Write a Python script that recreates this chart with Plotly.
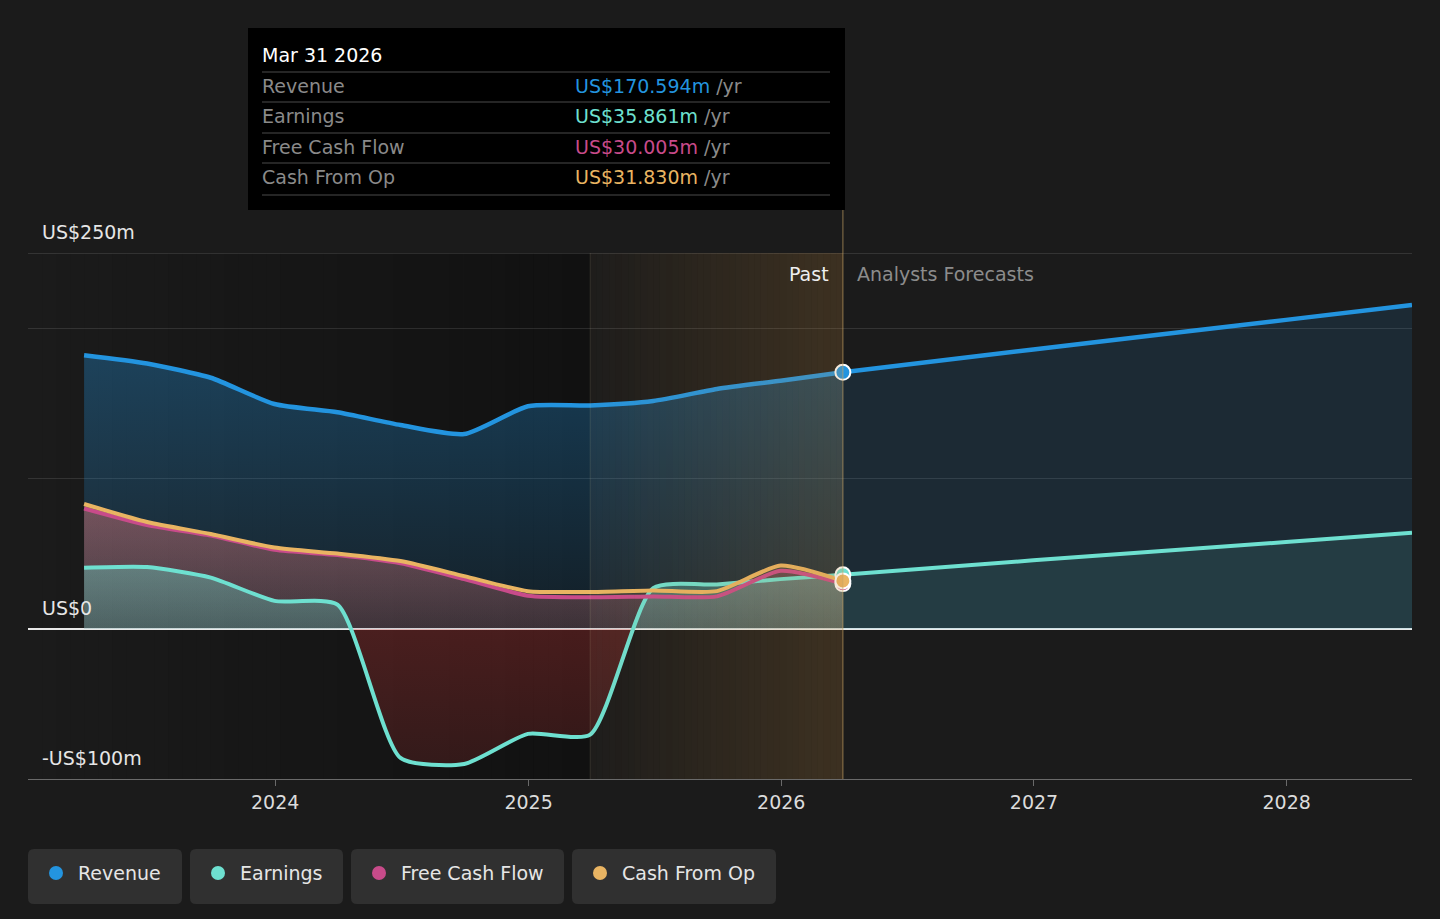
import numpy as np
import pandas as pd
import plotly.graph_objects as go

# ---------------- data ----------------
past_dates = ["2023-03-31", "2023-06-30", "2023-09-30", "2023-12-31",
              "2024-03-31", "2024-06-30", "2024-09-30", "2024-12-31",
              "2025-03-31", "2025-06-30", "2025-09-30", "2025-12-31",
              "2026-03-31"]
revenue_past = [182, 176.5, 167, 149.5, 144, 135.5, 129.5, 148, 148.5, 151.5, 159.5, 165, 170.594]
earnings_past = [40.5, 41, 34, 18.5, 16, -86, -90, -70, -70.5, 27, 29.5, 33, 35.861]
fcf_past = [80, 69, 62, 52.5, 49, 43.5, 33, 22, 21, 21.5, 21.5, 38.5, 30.005]
cfo_past = [83, 71, 63, 54, 50, 45, 35, 25, 24.5, 25.5, 25, 42, 31.83]

fc_dates = ["2026-03-31", "2026-12-31", "2027-12-31", "2028-06-30"]
revenue_fc = [170.594, 185.8, 205.5, 215.4]
earnings_fc = [35.861, 45.5, 57.7, 63.8]

year_ticks = ["2024-01-01", "2025-01-01", "2026-01-01", "2027-01-01", "2028-01-01"]
year_labels = ["2024", "2025", "2026", "2027", "2028"]

series_names = ["Revenue", "Earnings", "Free Cash Flow", "Cash From Op"]
series_colors = ["#2394df", "#6ee0d0", "#c84b8a", "#e9b462"]

x_range = ["2023-01-09", "2028-06-30"]
y_range = [-100, 250]
past_start = "2025-03-31"
now_date = "2026-03-31"

FONT = "DejaVu Sans"
BG = "#1b1b1b"
SMOOTH = 0.6

fig = go.Figure()

# ---------------- fills ----------------
fig.add_trace(go.Scatter(
    x=past_dates, y=revenue_past, mode="lines", line=dict(width=0, shape="spline", smoothing=SMOOTH),
    fill="tozeroy",
    fillgradient=dict(type="vertical", start=0, stop=max(revenue_past),
                      colorscale=[[0, "rgba(35,148,223,0.10)"], [1, "rgba(35,148,223,0.33)"]]),
    hoverinfo="skip", showlegend=False))
fig.add_trace(go.Scatter(
    x=fc_dates, y=revenue_fc, mode="lines", line=dict(width=0),
    fill="tozeroy", fillcolor="rgba(35,148,223,0.13)", hoverinfo="skip", showlegend=False))
fig.add_trace(go.Scatter(
    x=past_dates, y=cfo_past, mode="lines", line=dict(width=0, shape="spline", smoothing=SMOOTH),
    fill="tozeroy",
    fillgradient=dict(type="vertical", start=0, stop=max(cfo_past),
                      colorscale=[[0, "rgba(233,180,98,0.10)"], [1, "rgba(233,180,98,0.27)"]]),
    hoverinfo="skip", showlegend=False))
fig.add_trace(go.Scatter(
    x=past_dates, y=fcf_past, mode="lines", line=dict(width=0, shape="spline", smoothing=SMOOTH),
    fill="tozeroy",
    fillgradient=dict(type="vertical", start=0, stop=max(fcf_past),
                      colorscale=[[0, "rgba(200,75,138,0.12)"], [1, "rgba(200,75,138,0.28)"]]),
    hoverinfo="skip", showlegend=False))
e_lo, e_hi = min(earnings_past), max(earnings_past)
z = (0 - e_lo) / (e_hi - e_lo)
fig.add_trace(go.Scatter(
    x=past_dates, y=earnings_past, mode="lines", line=dict(width=0, shape="spline", smoothing=SMOOTH),
    fill="tozeroy",
    fillgradient=dict(type="vertical", start=e_lo, stop=e_hi,
                      colorscale=[[0, "rgba(205,55,55,0.17)"], [z - 0.001, "rgba(205,55,55,0.29)"],
                                  [z, "rgba(110,224,208,0.25)"], [1, "rgba(110,224,208,0.36)"]]),
    hoverinfo="skip", showlegend=False))
fig.add_trace(go.Scatter(
    x=fc_dates, y=earnings_fc, mode="lines", line=dict(width=0),
    fill="tozeroy", fillcolor="rgba(110,224,208,0.10)", hoverinfo="skip", showlegend=False))

# ---------------- lines ----------------
line_series = [
    (past_dates, revenue_past, series_colors[0], 4.5),
    (fc_dates, revenue_fc, series_colors[0], 4.5),
    (past_dates, earnings_past, series_colors[1], 4),
    (fc_dates, earnings_fc, series_colors[1], 4),
    (past_dates, fcf_past, series_colors[2], 4),
    (past_dates, cfo_past, series_colors[3], 4),
]
for xs, ys, col, w in line_series:
    fig.add_trace(go.Scatter(x=xs, y=ys, mode="lines",
                             line=dict(color=col, width=w, shape="spline", smoothing=SMOOTH),
                             hoverinfo="skip", showlegend=False))

# markers at the "now" point
for ys, col in [(revenue_past, series_colors[0]), (earnings_past, series_colors[1]),
                (fcf_past, series_colors[2]), (cfo_past, series_colors[3])]:
    fig.add_trace(go.Scatter(x=[past_dates[-1]], y=[ys[-1]], mode="markers",
                             marker=dict(color=col, size=15, line=dict(color="white", width=2)),
                             hoverinfo="skip", showlegend=False))

shapes = []
# dark gradient (below) on the left part of the plot
t0 = pd.Timestamp(x_range[0]); t1 = pd.Timestamp(past_start); t2 = pd.Timestamp(now_date)
N = 40
for i in range(N):
    a = t0 + (t1 - t0) * i / N
    b = t0 + (t1 - t0) * (i + 1) / N
    f = (i + 0.5) / N
    c = int(round(27 - 10 * f))
    shapes.append(dict(type="rect", xref="x", yref="paper", x0=a, x1=b, y0=0, y1=1,
                       fillcolor=f"rgb({c},{c},{c})", line=dict(width=0), layer="below"))
# gold overlay for last year of past data
for i in range(N):
    a = t1 + (t2 - t1) * i / N
    b = t1 + (t2 - t1) * (i + 1) / N
    f = (i + 0.5) / N
    shapes.append(dict(type="rect", xref="x", yref="paper", x0=a, x1=b, y0=0, y1=1,
                       fillcolor=f"rgba(200,140,60,{0.02 + 0.18 * f:.3f})", line=dict(width=0), layer="above"))
# top grid line at 250
shapes.append(dict(type="line", xref="paper", yref="y", x0=0, x1=1, y0=250, y1=250,
                   line=dict(color="rgba(255,255,255,0.22)", width=1), layer="below"))
# vertical marker at start of last year
shapes.append(dict(type="line", xref="x", yref="paper", x0=past_start, x1=past_start, y0=0, y1=1,
                   line=dict(color="rgba(255,235,200,0.12)", width=1), layer="above"))

# tooltip box geometry (paper coords)
W, H = 1384.0, 526.0
def px(xp): return (xp - 28) / W
def py(yp): return (779 - yp) / H

shapes.append(dict(type="line", xref="x", yref="paper", x0=now_date, x1=now_date, y0=0, y1=py(210),
                   line=dict(color="rgba(200,165,100,0.55)", width=1.2), layer="above"))
shapes.append(dict(type="rect", xref="paper", yref="paper", x0=px(248), x1=px(845), y0=py(210), y1=py(28),
                   fillcolor="#000000", line=dict(width=0), layer="above"))
for yy in [72, 102, 133, 163, 195]:
    shapes.append(dict(type="line", xref="paper", yref="paper", x0=px(262), x1=px(830), y0=py(yy), y1=py(yy),
                       line=dict(color="#4a4a4a", width=1.2), layer="above"))

annotations = []
annotations.append(dict(xref="paper", yref="paper", x=px(260), y=py(55), text=pd.Timestamp(now_date).strftime("%b %d %Y"),
                        showarrow=False, xanchor="left", yanchor="middle",
                        font=dict(family=FONT, size=19, color="#ffffff")))
row_vals = [revenue_past[-1], earnings_past[-1], fcf_past[-1], cfo_past[-1]]
for i, (nm, col, v) in enumerate(zip(series_names, series_colors, row_vals)):
    yy = [86, 116, 147, 177][i]
    annotations.append(dict(xref="paper", yref="paper", x=px(260), y=py(yy), text=nm,
                            showarrow=False, xanchor="left", yanchor="middle",
                            font=dict(family=FONT, size=19, color="#8a8a8a")))
    annotations.append(dict(xref="paper", yref="paper", x=px(573), y=py(yy),
                            text=f'<span style="color:{col}">US${v:.3f}m</span> /yr',
                            showarrow=False, xanchor="left", yanchor="middle",
                            font=dict(family=FONT, size=19, color="#8a8a8a")))

# y labels
for val, lab in [(250, "US$250m"), (0, "US$0"), (-100, "-US$100m")]:
    annotations.append(dict(xref="paper", yref="y", x=px(40), y=val, text=lab, showarrow=False,
                            xanchor="left", yanchor="bottom", yshift=8,
                            font=dict(family=FONT, size=19, color="#e6e6e6")))

# Past / forecast labels
annotations.append(dict(xref="x", yref="paper", x=now_date, y=py(274), text="Past", showarrow=False,
                        xanchor="right", yanchor="middle", xshift=-12,
                        font=dict(family=FONT, size=19, color="#eeeeee")))
annotations.append(dict(xref="x", yref="paper", x=now_date, y=py(274), text="Analysts Forecasts", showarrow=False,
                        xanchor="left", yanchor="middle", xshift=12,
                        font=dict(family=FONT, size=19, color="#8c8c8c")))

# custom legend
boxes = [(28, 182), (190, 343), (351, 564), (572, 776)]
rx, ry = 6 / W, 6 / H
for (x0p, x1p), nm, col in zip(boxes, series_names, series_colors):
    X0, X1, Y0, Y1 = px(x0p), px(x1p), py(904), py(849)
    path = (f"M {X0+rx},{Y0} L {X1-rx},{Y0} Q {X1},{Y0} {X1},{Y0+ry} L {X1},{Y1-ry} Q {X1},{Y1} {X1-rx},{Y1} "
            f"L {X0+rx},{Y1} Q {X0},{Y1} {X0},{Y1-ry} L {X0},{Y0+ry} Q {X0},{Y0} {X0+rx},{Y0} Z")
    shapes.append(dict(type="path", xref="paper", yref="paper", path=path,
                       fillcolor="#303030", line=dict(width=0), layer="above"))
    cx, cy, r = x0p + 28, 873, 7
    shapes.append(dict(type="circle", xref="paper", yref="paper",
                       x0=px(cx - r), x1=px(cx + r), y0=py(cy + r), y1=py(cy - r),
                       fillcolor=col, line=dict(width=0), layer="above"))
    annotations.append(dict(xref="paper", yref="paper", x=px(x0p + 48), y=py(873), text=nm, showarrow=False,
                            xanchor="left", yanchor="middle",
                            font=dict(family=FONT, size=19, color="#e6e6e6")))

fig.update_layout(
    width=1440, height=919,
    margin=dict(l=28, r=28, t=253, b=140),
    paper_bgcolor=BG, plot_bgcolor=BG,
    hovermode=False, showlegend=False,
    shapes=shapes, annotations=annotations,
    font=dict(family=FONT, size=19, color="#e6e6e6"),
    xaxis=dict(type="date", range=x_range, tickvals=year_ticks, ticktext=year_labels,
               showgrid=False, zeroline=False, showline=True, linecolor="#6a6a6a", linewidth=1.2,
               ticks="outside", ticklen=6, tickcolor="#6a6a6a", tickwidth=1,
               tickfont=dict(family=FONT, size=19, color="#dcdcdc")),
    yaxis=dict(range=y_range, tickvals=[0, 100, 200], showticklabels=False,
               showgrid=True, gridcolor="rgba(255,255,255,0.11)", gridwidth=1,
               zeroline=True, zerolinecolor="#e8e8e8", zerolinewidth=1.5, showline=False),
)

fig.write_html("out.html", config={"displayModeBar": False},
               post_script="document.body.style.margin='0';document.body.style.background='#1b1b1b';document.body.style.overflow='hidden';")
